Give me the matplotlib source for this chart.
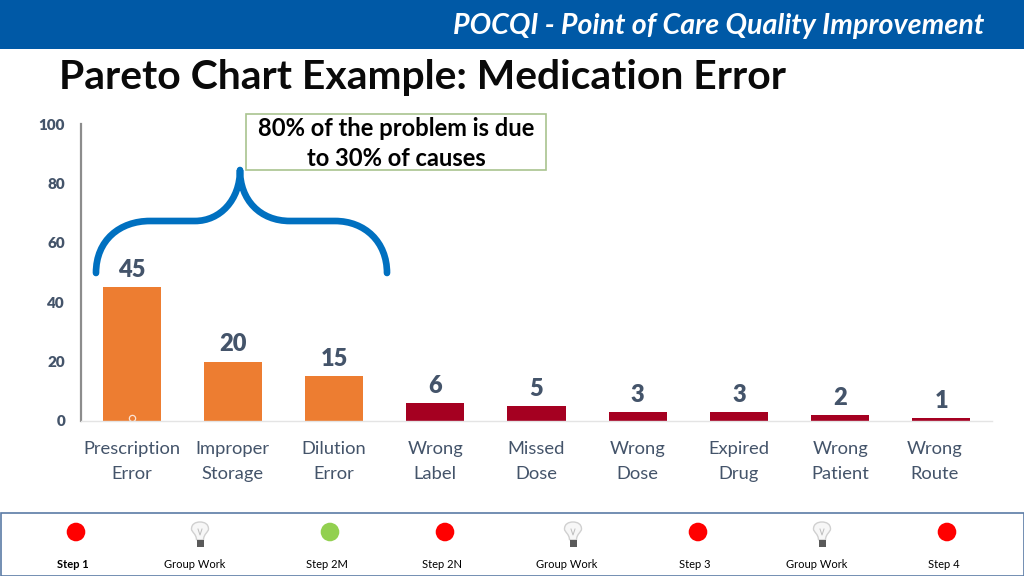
"""Pareto chart of medication errors on a POCQI slide."""

import matplotlib

matplotlib.use("Agg")

import matplotlib.pyplot as plt
from matplotlib.patches import Circle, PathPatch, Rectangle
from matplotlib.path import Path

plt.rcParams["font.family"] = ["Lato", "DejaVu Sans"]

categories = [
    "Prescription\nError",
    "Improper\nStorage",
    "Dilution\nError",
    "Wrong\nLabel",
    "Missed\nDose",
    "Wrong\nDose",
    "Expired\nDrug",
    "Wrong\nPatient",
    "Wrong\nRoute",
]
errors = [45, 20, 15, 6, 5, 3, 3, 2, 1]
y_ticks = [0, 20, 40, 60, 80, 100]
steps = ["Step 1", "Group Work", "Step 2M", "Step 2N", "Group Work", "Step 3", "Group Work", "Step 4"]
step_label_x = [73, 195, 327, 442, 567, 695, 817, 944]
step_icon_x = [76, 200, 330, 445, 573, 698, 822, 947]
step_icons = ["red", "bulb", "green", "red", "bulb", "red", "bulb", "red"]

TEXT_GREY = "#44546A"
ORANGE = "#ED7D31"
DARK_RED = "#A50021"
BLUE = "#0070C0"
W, H = 1024, 576

fig = plt.figure(figsize=(W / 100, H / 100), dpi=100, facecolor="white")

# pixel-coordinate layer for the slide furniture
bg = fig.add_axes([0, 0, 1, 1])
bg.set_xlim(0, W)
bg.set_ylim(H, 0)
bg.axis("off")

bg.add_patch(Rectangle((0, 0), W, 49, color="#0059A6", lw=0))
bg.text(719, 26, "POCQI - Point of Care Quality Improvement", color="white", fontsize=20.6,
        fontweight="bold", style="italic", ha="center", va="center")
bg.text(59, 77, "Pareto Chart Example: Medication Error", color="#0A0A0A", fontsize=29.4,
        fontweight="bold", ha="left", va="center")

# chart
ax = fig.add_axes([81 / W, 1 - 421 / H, (992 - 81) / W, (421 - 124) / H])
ax.patch.set_alpha(0)
positions = list(range(len(errors)))
colors = [ORANGE] * 3 + [DARK_RED] * 6
ax.bar(positions, errors, width=0.573, color=colors, linewidth=0)
ax.set_xlim(-0.5, len(errors) - 0.5)
ax.set_ylim(0, 100)
ax.set_yticks(y_ticks)
ax.set_yticklabels(y_ticks, fontsize=11, fontweight="heavy", color=TEXT_GREY)
ax.set_xticks(positions)
ax.set_xticklabels([])
ax.tick_params(axis="both", length=0)
ax.tick_params(axis="y", pad=11.5)
for side in ["top", "right"]:
    ax.spines[side].set_visible(False)
ax.spines["left"].set_color("#8C8C8C")
ax.spines["left"].set_linewidth(1.6)
ax.spines["bottom"].set_color("#E4E4E4")
ax.spines["bottom"].set_linewidth(1)

for pos, value in zip(positions, errors):
    ax.annotate(str(value), (pos, value), xytext=(0, 6.5), textcoords="offset pixels",
                ha="center", va="bottom", fontsize=17, fontweight="heavy", color=TEXT_GREY)
    # last label sits a little left of its bar in the original
    nudge = -7 if pos == len(errors) - 1 else 0
    ax.annotate(categories[pos], (pos, 0), xytext=(nudge, -20), textcoords="offset pixels",
                ha="center", va="top", fontsize=13.2, color=TEXT_GREY, linespacing=1.66)

# small marker left on the first bar
ax.plot([0], [1], marker="o", ms=4.5, mfc="none", mec="#FBE3D3", mew=0.9, linestyle="none")

# callout
bg.add_patch(Rectangle((246, 114), 300, 56, fc="white", ec="#A9C48F", lw=1.2, zorder=4))
bg.text(396, 143.5, "80% of the problem is due\nto 30% of causes", color="black", fontsize=17.1,
        fontweight="bold", ha="center", va="center", linespacing=1.41, zorder=5)

# curly brace
brace = Path(
    [(96, 273), (96, 240), (120, 221), (150, 221), (165, 221), (180, 221), (195, 221),
     (220, 221), (240, 200), (240, 170), (240, 200), (260, 221), (290, 221),
     (305, 221), (320, 221), (335, 221), (365, 221), (387, 242), (387, 273)],
    [Path.MOVETO] + [Path.CURVE4] * 18,
)
bg.add_patch(PathPatch(brace, fc="none", ec=BLUE, lw=4.8, capstyle="round", joinstyle="round", zorder=6))

# step strip along the bottom
bg.add_patch(Rectangle((0.5, 512.5), W - 1, 63, fc="white", ec="#5B7BA6", lw=1.2))


def draw_bulb(x, y):
    glass = Path(
        [(x - 3.5, y + 8), (x - 3.5, y + 2), (x - 8.5, y), (x - 8.5, y - 3),
         (x - 8.5, y - 8), (x - 4.5, y - 10), (x, y - 10),
         (x + 4.5, y - 10), (x + 8.5, y - 8), (x + 8.5, y - 3),
         (x + 8.5, y), (x + 3.5, y + 2), (x + 3.5, y + 8), (x - 3.5, y + 8)],
        [Path.MOVETO] + [Path.CURVE4] * 12 + [Path.LINETO],
    )
    bg.add_patch(PathPatch(glass, fc="#F7F7F7", ec="#D0D0D0", lw=1))
    bg.plot([x - 2, x, x + 2], [y - 3, y + 3, y - 3], color="#BDBDBD", lw=0.7)
    bg.add_patch(Rectangle((x - 3.5, y + 8), 7, 7, fc="#5A5A5A", ec="none"))


for label, label_x, icon, icon_x in zip(steps, step_label_x, step_icons, step_icon_x):
    if icon == "bulb":
        draw_bulb(icon_x, 532)
    else:
        bg.add_patch(Circle((icon_x, 532), 9.3, color="#FF0000" if icon == "red" else "#92D050", lw=0))
    bg.text(label_x, 564, label, color="black", fontsize=8,
            fontweight="bold" if label == "Step 1" else "normal", ha="center", va="center")

fig.savefig("out.png", dpi=100)
